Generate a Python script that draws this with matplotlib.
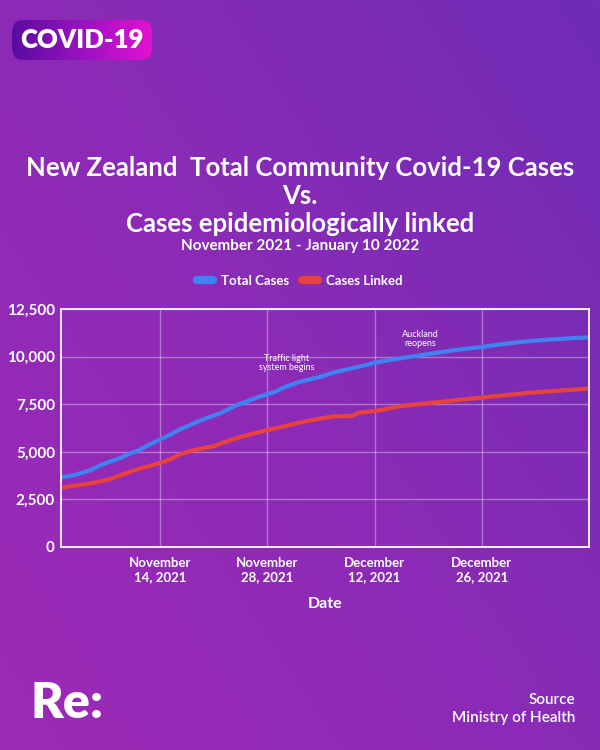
import matplotlib
matplotlib.use('Agg')
import matplotlib.pyplot as plt
from matplotlib.colors import LinearSegmentedColormap
from matplotlib.patches import FancyBboxPatch
import numpy as np
import pandas as pd

plt.rcParams['font.family'] = ['Lato', 'DejaVu Sans']

dates = pd.date_range('2021-11-01', '2022-01-09', freq='D')
total_cases = [3650, 3720, 3800, 3920, 4050, 4250, 4420, 4560, 4700, 4900,
               5050, 5250, 5450, 5650, 5830, 6050, 6250, 6420, 6600, 6760,
               6900, 7050, 7250, 7450, 7600, 7750, 7900, 8030, 8150, 8350,
               8500, 8650, 8750, 8850, 8950, 9080, 9200, 9290, 9380, 9470,
               9570, 9680, 9750, 9820, 9880, 9950, 10010, 10070, 10130, 10190,
               10250, 10310, 10370, 10420, 10460, 10500, 10560, 10620, 10670, 10720,
               10760, 10800, 10840, 10870, 10900, 10920, 10950, 10970, 10990, 11010]
cases_linked = [3100, 3170, 3230, 3290, 3350, 3430, 3520, 3650, 3790, 3940,
                4070, 4190, 4300, 4420, 4550, 4750, 4920, 5050, 5130, 5220,
                5290, 5450, 5590, 5720, 5830, 5940, 6050, 6140, 6230, 6320,
                6420, 6510, 6600, 6680, 6750, 6820, 6870, 6870, 6880, 7060,
                7100, 7140, 7210, 7290, 7360, 7430, 7470, 7510, 7560, 7600,
                7640, 7680, 7730, 7770, 7810, 7850, 7890, 7930, 7970, 8010,
                8050, 8090, 8120, 8150, 8180, 8210, 8240, 8260, 8290, 8320]

tick_dates = ['2021-11-14', '2021-11-28', '2021-12-12', '2021-12-26']
tick_labels = ['November\n14, 2021', 'November\n28, 2021', 'December\n12, 2021', 'December\n26, 2021']
y_ticks = [0, 2500, 5000, 7500, 10000, 12500]

fig = plt.figure(figsize=(6, 7.5), dpi=100)

# background gradient
bg = fig.add_axes([0, 0, 1, 1], zorder=-10)
gx, gy = np.meshgrid(np.linspace(0, 1, 200), np.linspace(0, 1, 250))
grad = (gx * 0.55 + (1 - gy) * 0.45)
bg_cmap = LinearSegmentedColormap.from_list('bg', ['#9d2ab6', '#8a2bb6', '#6f2cb5'])
bg.imshow(grad, cmap=bg_cmap, aspect='auto', extent=[0, 1, 0, 1], origin='upper')

# COVID-19 badge
badge_cmap = LinearSegmentedColormap.from_list('badge', ['#5a0ca0', '#9a12c0', '#e211d2'])
bx0, bx1, by0, by1 = 12 / 600, 152 / 600, 1 - 60 / 750, 1 - 20 / 750
im = bg.imshow(np.linspace(0, 1, 100).reshape(1, -1), cmap=badge_cmap, aspect='auto',
               extent=[bx0, bx1, by0, by1], zorder=2)
box = FancyBboxPatch((bx0, by0), bx1 - bx0, by1 - by0,
                     boxstyle='round,pad=0,rounding_size=0.018', transform=bg.transData,
                     facecolor='none', edgecolor='none')
bg.add_patch(box)
im.set_clip_path(box)
bg.set_xlim(0, 1)
bg.set_ylim(0, 1)
bg.axis('off')
fig.text((bx0 + bx1) / 2, (by0 + by1) / 2, 'COVID-19', color='white', fontsize=18.5,
         fontweight='heavy', ha='center', va='center')

# titles
title_kw = dict(color='white', fontsize=18.5, fontweight='bold', ha='center', va='center')
fig.text(0.5, 1 - 168 / 750, 'New Zealand  Total Community Covid-19 Cases', **title_kw)
fig.text(0.5, 1 - 196 / 750, 'Vs.', **title_kw)
fig.text(0.5, 1 - 224 / 750, 'Cases epidemiologically linked', **title_kw)
fig.text(0.5, 1 - 246 / 750, 'November 2021 - January 10 2022', color='white', fontsize=11,
         fontweight='bold', ha='center', va='center')

# main chart
ax = fig.add_axes([60.5 / 600, 1 - 547 / 750, (589 - 60.5) / 600, (547 - 309) / 750])
ax.set_facecolor('none')
ax.plot(dates, total_cases, color='#3f82f2', lw=3, label='Total Cases', solid_capstyle='round')
ax.plot(dates, cases_linked, color='#e8423c', lw=3, label='Cases Linked', solid_capstyle='round')
ax.set_xlim(dates[0], dates[-1])
ax.set_ylim(0, 12500)
ax.set_yticks(y_ticks)
ax.set_yticklabels([f'{v:,}' for v in y_ticks])
ax.set_xticks(pd.to_datetime(tick_dates))
ax.set_xticklabels(tick_labels)
ax.tick_params(length=0, colors='white', labelsize=11, pad=4)
ax.tick_params(axis='x', labelsize=9.5, pad=7)
for lab in ax.get_xticklabels() + ax.get_yticklabels():
    lab.set_fontweight('bold')
ax.grid(True, color='white', alpha=0.35, lw=1)
for s in ax.spines.values():
    s.set_color('white')
    s.set_linewidth(1.3)
ax.set_xlabel('Date', color='white', fontsize=11.5, fontweight='bold', labelpad=10)

ax.text(pd.Timestamp('2021-11-30 12:00'), 9650, 'Traffic light\nsystem begins', color='white',
        fontsize=6.5, ha='center', va='center', linespacing=1.0)
ax.text(pd.Timestamp('2021-12-18'), 10900, 'Auckland\nreopens', color='white',
        fontsize=6.5, ha='center', va='center', linespacing=1.0)

leg = fig.legend(loc='center', bbox_to_anchor=(0.5, 1 - 281 / 750), ncol=2, frameon=False,
                 handlelength=1.2, handletextpad=0.6, columnspacing=1.0,
                 prop={'size': 9.5, 'weight': 'bold'})
for t in leg.get_texts():
    t.set_color('white')
for h in leg.legend_handles:
    h.set_linewidth(6)
    h.set_solid_capstyle('round')

# footer
fig.text(30 / 600, 1 - 704 / 750, 'Re:', color='white', fontsize=36, fontweight='heavy',
         ha='left', va='center')
fig.text(575 / 600, 1 - 700 / 750, 'Source', color='white', fontsize=11, fontweight='semibold',
         ha='right', va='center')
fig.text(575 / 600, 1 - 718 / 750, 'Ministry of Health', color='white', fontsize=11,
         fontweight='semibold', ha='right', va='center')

fig.savefig('out.png', dpi=100)
